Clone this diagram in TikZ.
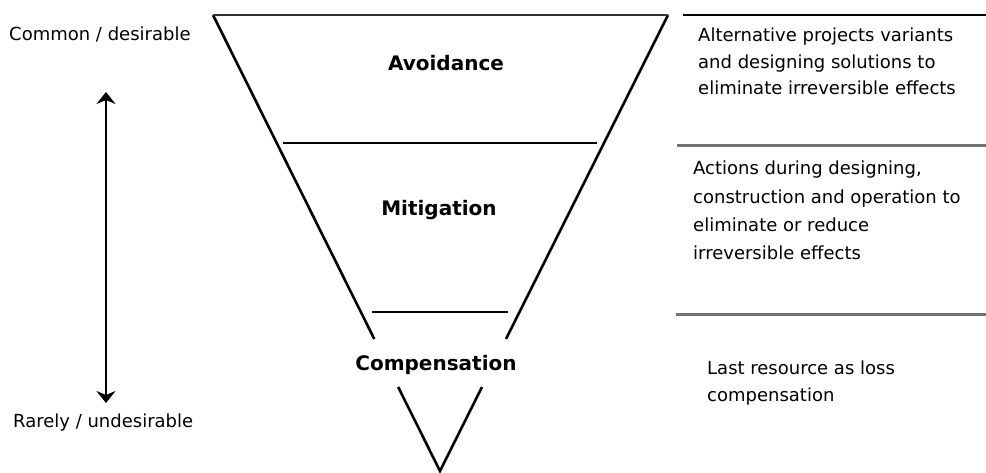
\documentclass[tikz,border=0pt]{standalone}
\usepackage{fontspec}
\setmainfont{DejaVu Sans}
\usetikzlibrary{arrows.meta,calc}
\tikzset{
  side/.style={line width=2.6pt, black, line join=miter},
  topedge/.style={line width=2.8pt, black!80},
  inner/.style={line width=1.3pt, black},
  sepgray/.style={line width=3pt, black!55},
  sepblack/.style={line width=1.3pt, black},
  title/.style={inner sep=0pt, anchor=base, font=\bfseries\fontsize{20}{24}\selectfont},
  side label/.style={inner sep=0pt, anchor=base west, font=\fontsize{18}{22}\selectfont},
  desc/.style={inner sep=0pt, anchor=north west, align=left},
  scale arrow/.style={line width=2pt, {Stealth[length=12pt,width=19pt,inset=4pt]}-{Stealth[length=12pt,width=19pt,inset=4pt]}}
}
\begin{document}
\begin{tikzpicture}[x=1pt,y=-1pt]
\useasboundingbox (0,0) rectangle (986,472);
% triangle corners
\coordinate (TL) at (213,15);
\coordinate (TR) at (668,15);
\coordinate (AP) at (440,471);
\coordinate (L1) at ($(TL)!0.7105!(AP)$);
\coordinate (R1) at ($(TR)!0.7105!(AP)$);
\coordinate (L2) at ($(TL)!0.8158!(AP)$);
\coordinate (R2) at ($(TR)!0.8158!(AP)$);
% sides
\draw[side] (L1) -- (TL);
\draw[side] (TR) -- (R1);
\draw[side] (L2) -- (AP) -- (R2);
\draw[topedge] (TL) -- (TR);
% inner separators
\coordinate (m1) at (283,143);
\coordinate (m2) at (597,143);
\coordinate (c1) at (372,312);
\coordinate (c2) at (508,312);
\draw[inner] (m1) -- (m2);
\draw[inner] (c1) -- (c2);
% titles
\node[title] (avoid) at (446,70) {Avoidance};
\node[title] (mitig) at (439,215) {Mitigation};
\node[title] (comp) at (436,370) {Compensation};
% left scale
\node[side label] (common) at (9,40) {Common / desirable};
\node[side label] (rarely) at (13,427) {Rarely / undesirable};
\coordinate (atop) at (106,92);
\coordinate (abot) at (106,403);
\draw[scale arrow] (abot) -- (atop);
% right separators
\coordinate (s0a) at (683,15);
\coordinate (s0b) at (986,15);
\coordinate (s1a) at (677,145);
\coordinate (s1b) at (986,145);
\coordinate (s2a) at (676,314);
\coordinate (s2b) at (986,314);
\draw[sepblack] (s0a) -- (s0b);
\draw[sepgray] (s1a) -- (s1b);
\draw[sepgray] (s2a) -- (s2b);
% descriptions
\node[desc, font=\fontsize{18}{26.5}\selectfont] (d1) at (698,28) {Alternative projects variants\\and designing solutions to\\eliminate irreversible effects};
\node[desc, font=\fontsize{18}{28.3}\selectfont] (d2) at (693,161) {Actions during designing,\\construction and operation to\\eliminate or reduce\\irreversible effects};
\node[desc, font=\fontsize{18}{27}\selectfont] (d3) at (707,361) {Last resource as loss\\compensation};
\end{tikzpicture}
\end{document}
